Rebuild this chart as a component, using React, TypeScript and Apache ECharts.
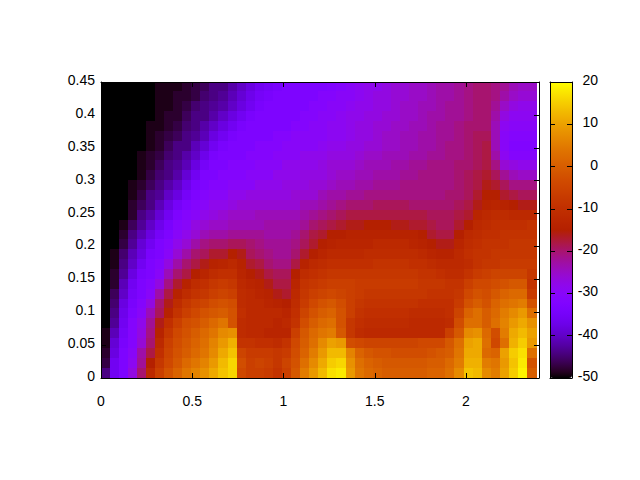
import React, { useEffect, useRef } from "react";
import * as echarts from "echarts";

const xTicks = [0, 0.5, 1, 1.5, 2];
const yTicks = [0, 0.05, 0.1, 0.15, 0.2, 0.25, 0.3, 0.35, 0.4, 0.45];
const xStep = 0.04973;
const yStep = 0.015;

// Values, top row first, left column first.
const rows: number[][] = [
[-95,-85,-76,-68,-60,-52,-49,-49,-49,-48,-47,-46,-44,-44,-42,-40,-38,-36,-35,-34,-33,-33,-33,-33,-33,-32,-31,-30,-29,-28,-28,-27,-26,-26,-25,-25,-24,-23,-23,-22,-21,-20,-20,-21,-22,-24,-25,-25],
[-94,-84,-74,-67,-58,-51,-49,-49,-48,-48,-47,-45,-44,-43,-41,-39,-37,-35,-34,-33,-33,-33,-33,-33,-31,-31,-30,-30,-29,-28,-27,-27,-26,-26,-25,-25,-24,-23,-23,-22,-21,-20,-20,-21,-23,-25,-26,-26],
[-93,-82,-72,-65,-56,-51,-49,-49,-48,-47,-45,-44,-43,-42,-40,-38,-36,-34,-33,-33,-33,-33,-33,-31,-31,-30,-30,-29,-28,-28,-27,-27,-26,-25,-25,-24,-24,-23,-22,-22,-21,-20,-20,-22,-25,-27,-28,-28],
[-92,-80,-70,-62,-54,-50,-49,-48,-48,-46,-44,-44,-42,-40,-38,-36,-34,-33,-33,-33,-33,-33,-31,-31,-30,-30,-29,-28,-28,-27,-27,-26,-26,-25,-25,-24,-23,-23,-22,-22,-21,-20,-20,-23,-27,-29,-29,-29],
[-90,-78,-68,-60,-52,-49,-49,-48,-47,-45,-44,-42,-40,-38,-36,-34,-33,-33,-33,-33,-33,-31,-31,-30,-30,-29,-29,-28,-27,-27,-26,-26,-25,-25,-24,-24,-23,-22,-22,-21,-20,-20,-20,-24,-29,-30,-30,-30],
[-88,-75,-65,-57,-50,-49,-48,-47,-46,-44,-43,-41,-38,-36,-34,-33,-33,-33,-33,-31,-31,-30,-30,-30,-30,-29,-29,-28,-27,-27,-26,-25,-25,-24,-24,-23,-23,-22,-22,-21,-20,-19,-19,-24,-30,-31,-31,-31],
[-85,-72,-62,-55,-50,-49,-48,-46,-44,-44,-41,-39,-36,-34,-33,-33,-33,-31,-31,-31,-30,-30,-30,-30,-29,-28,-28,-27,-27,-26,-26,-25,-25,-24,-24,-23,-23,-22,-21,-21,-20,-19,-18,-24,-30,-32,-32,-32],
[-82,-70,-60,-53,-49,-48,-47,-45,-44,-42,-40,-37,-34,-33,-33,-33,-31,-31,-31,-30,-30,-30,-28,-28,-28,-27,-27,-27,-26,-25,-25,-24,-24,-24,-23,-23,-22,-22,-21,-21,-20,-19,-18,-23,-29,-31,-31,-31],
[-80,-68,-58,-52,-49,-48,-46,-44,-43,-41,-38,-35,-33,-33,-31,-31,-31,-30,-30,-30,-28,-28,-28,-28,-27,-26,-26,-26,-25,-24,-24,-24,-23,-23,-22,-22,-21,-21,-21,-20,-20,-19,-18,-21,-26,-27,-28,-28],
[-78,-65,-56,-51,-49,-47,-45,-44,-42,-39,-36,-33,-33,-31,-31,-31,-30,-30,-30,-28,-28,-28,-27,-27,-27,-26,-25,-25,-24,-24,-23,-23,-23,-22,-22,-21,-21,-21,-21,-20,-19,-18,-17,-19,-22,-24,-25,-25],
[-75,-62,-55,-49,-48,-46,-44,-42,-40,-37,-34,-33,-31,-31,-30,-30,-30,-28,-28,-28,-27,-27,-27,-26,-26,-25,-24,-24,-23,-23,-22,-22,-22,-21,-21,-21,-21,-21,-21,-20,-19,-18,-16,-17,-19,-21,-21,-21],
[-72,-60,-53,-49,-47,-44,-43,-40,-38,-35,-33,-31,-30,-30,-28,-28,-27,-27,-27,-27,-27,-26,-26,-26,-24,-23,-23,-22,-22,-21,-21,-21,-21,-21,-21,-21,-21,-21,-20,-20,-19,-17,-15,-15,-17,-18,-19,-19],
[-70,-57,-51,-48,-46,-44,-41,-38,-35,-33,-31,-30,-28,-28,-27,-26,-26,-26,-26,-26,-26,-26,-24,-24,-23,-22,-21,-20,-20,-20,-19,-19,-19,-19,-20,-20,-20,-20,-20,-19,-18,-16,-14,-13,-14,-15,-16,-16],
[-68,-55,-50,-48,-44,-42,-39,-36,-33,-31,-30,-28,-27,-26,-25,-25,-25,-24,-24,-24,-24,-24,-23,-22,-21,-20,-19,-18,-18,-18,-18,-18,-18,-18,-18,-18,-19,-19,-19,-18,-17,-13,-12,-11,-11,-12,-12,-12],
[-65,-53,-49,-46,-43,-40,-37,-34,-31,-30,-27,-26,-25,-25,-24,-24,-24,-24,-23,-23,-23,-23,-22,-20,-19,-18,-17,-16,-16,-15,-15,-15,-16,-16,-17,-17,-18,-19,-19,-17,-15,-12,-11,-10,-10,-10,-10,-9],
[-62,-52,-48,-44,-41,-38,-35,-33,-30,-28,-26,-24,-23,-23,-22,-22,-22,-22,-23,-23,-23,-22,-20,-18,-17,-15,-15,-14,-14,-14,-14,-14,-14,-14,-14,-15,-17,-18,-18,-15,-12,-11,-10,-10,-9,-9,-9,-9],
[-60,-50,-47,-43,-39,-36,-33,-31,-28,-26,-23,-21,-20,-20,-19,-19,-20,-21,-22,-22,-22,-21,-19,-17,-15,-14,-13,-13,-13,-13,-12,-12,-12,-12,-13,-14,-15,-16,-16,-13,-11,-10,-9,-9,-9,-8,-8,-8],
[-58,-49,-45,-41,-38,-34,-33,-30,-26,-23,-20,-19,-17,-17,-15,-16,-19,-20,-21,-22,-22,-20,-17,-15,-13,-12,-12,-12,-12,-11,-11,-11,-11,-11,-11,-12,-13,-14,-14,-12,-10,-9,-9,-8,-8,-8,-8,-8],
[-56,-49,-44,-40,-36,-33,-31,-27,-23,-20,-18,-16,-14,-13,-12,-14,-17,-18,-20,-21,-21,-18,-14,-12,-11,-10,-10,-10,-10,-10,-9,-9,-9,-9,-10,-10,-11,-12,-12,-12,-11,-9,-8,-8,-7,-7,-7,-7],
[-55,-48,-43,-38,-34,-33,-30,-24,-20,-18,-15,-13,-11,-10,-10,-13,-15,-16,-18,-19,-19,-15,-11,-10,-9,-8,-8,-8,-8,-8,-8,-8,-8,-8,-8,-9,-9,-10,-11,-11,-9,-7,-6,-5,-5,-5,-5,-8],
[-54,-48,-41,-36,-33,-31,-27,-21,-17,-14,-11,-10,-8,-7,-8,-12,-13,-14,-16,-18,-18,-13,-9,-8,-7,-6,-6,-6,-7,-7,-7,-7,-7,-7,-7,-8,-8,-8,-9,-9,-6,-4,-4,-3,-2,-1,-1,-9],
[-53,-46,-40,-35,-33,-30,-23,-18,-14,-11,-9,-8,-6,-5,-6,-11,-12,-13,-14,-16,-17,-12,-8,-6,-5,-4,-5,-6,-7,-8,-8,-8,-8,-8,-8,-8,-9,-9,-9,-8,-4,-2,-3,-1,1,2,2,-7],
[-52,-45,-38,-34,-31,-27,-20,-16,-11,-8,-6,-5,-3,-2,-3,-11,-12,-12,-13,-14,-15,-11,-7,-4,-2,-1,-3,-6,-8,-9,-9,-9,-9,-9,-9,-10,-10,-10,-10,-7,-2,0,-2,1,3,4,5,-2],
[-51,-44,-37,-33,-30,-24,-19,-14,-9,-6,-4,-2,-1,0,-2,-10,-12,-12,-12,-12,-13,-10,-5,-2,0,1,-2,-6,-9,-10,-10,-10,-10,-10,-11,-11,-11,-11,-10,-5,1,3,0,2,5,7,9,3],
[-50,-43,-36,-31,-28,-22,-16,-10,-6,-3,-2,0,2,4,-2,-11,-12,-12,-12,-13,-12,-9,-3,0,2,3,-2,-8,-10,-11,-11,-11,-11,-11,-12,-12,-12,-12,-11,-3,3,3,0,3,6,9,11,8],
[-49,-41,-35,-31,-27,-21,-14,-8,-4,-2,0,2,4,7,8,-11,-12,-12,-13,-13,-13,-6,-1,2,4,5,-1,-8,-11,-12,-12,-12,-12,-12,-12,-12,-12,-12,-6,-1,7,8,2,-3,5,11,13,10],
[-49,-39,-34,-31,-26,-20,-12,-6,-3,-1,1,3,6,9,12,-9,-9,-10,-10,-11,-9,-4,0,3,7,10,9,-3,-4,-5,-5,-5,-5,-5,-5,-4,-4,-4,-1,3,10,11,3,-4,3,12,15,9],
[-48,-38,-33,-30,-23,-18,-10,-5,-2,0,2,4,7,11,14,-5,-7,-7,-7,-8,-7,-3,1,5,9,13,13,6,1,-1,-2,-2,-3,-3,-3,-3,-2,-1,0,4,11,11,2,1,10,15,17,3],
[-47,-36,-33,-29,-22,-15,-8,-4,-1,2,4,6,9,13,16,-3,-6,-5,-6,-8,-5,-2,3,7,11,15,16,8,3,1,0,-1,-1,-1,-1,-1,0,0,2,5,12,12,5,4,9,14,18,-2],
[-44,-36,-33,-27,-20,-12,-6,-2,1,4,6,8,11,14,16,-4,-6,-6,-7,-9,-6,-1,5,9,13,17,18,9,4,2,1,0,0,0,0,0,1,1,3,7,14,13,7,5,10,15,19,0],
];

const palette: string[] = [];
for (let i = 0; i <= 64; i++) {
  const t = i / 64;
  const r = Math.sqrt(t);
  const g = t * t * t;
  const b = Math.max(0, Math.sin(2 * Math.PI * t));
  palette.push(`rgb(${Math.round(r * 255)},${Math.round(g * 255)},${Math.round(b * 255)})`);
}

const FONT = "'Liberation Sans', Arial, sans-serif";

export default function App() {
  const ref = useRef<HTMLDivElement>(null);
  useEffect(() => {
    const chart = echarts.init(ref.current!, null, { renderer: "svg" });
    const data: number[][] = [];
    rows.forEach((row, r) => {
      const j = rows.length - 1 - r;
      row.forEach((v, i) => {
        data.push([(i + 0.5) * xStep, (j + 0.5) * yStep, Math.max(-50, Math.min(20, v))]);
      });
    });
    const black = { lineStyle: { color: "#000", width: 1 } };
    const label = { color: "#000", fontFamily: FONT, fontSize: 14 };
    const raised = { verticalAlign: "bottom", lineHeight: 4 };
    const mainX = (position: string, showLabels: boolean) => ({
      type: "value", gridIndex: 0, position, min: 0, max: 2.4, z: 10,
      splitLine: { show: false },
      axisLine: { show: true, onZero: false, ...black },
      axisTick: { show: true, inside: true, length: 5, customValues: xTicks, ...black },
      axisLabel: { show: showLabels, customValues: xTicks, margin: 16, ...label },
    });
    const mainY = (position: string, showLabels: boolean) => ({
      type: "value", gridIndex: 0, position, min: 0, max: 0.45, z: 10,
      splitLine: { show: false },
      axisLine: { show: true, onZero: false, ...black },
      axisTick: { show: true, inside: true, length: 5, customValues: yTicks, ...black },
      axisLabel: { show: showLabels, customValues: yTicks, margin: 6, ...raised, formatter: (v: number) => String(+v.toFixed(2)), ...label },
    });
    const cbX = (position: string) => ({
      type: "value", gridIndex: 1, position, min: 0, max: 1, z: 10,
      splitLine: { show: false },
      axisLine: { show: true, onZero: false, ...black },
      axisTick: { show: false }, axisLabel: { show: false },
    });
    const cbY = (position: string, showLabels: boolean) => ({
      type: "value", gridIndex: 1, position, min: -50, max: 20, interval: 10, z: 10,
      splitLine: { show: false },
      axisLine: { show: true, onZero: false, ...black },
      axisTick: { show: true, inside: true, length: 5, ...black },
      axisLabel: { show: showLabels, align: "right", margin: 26, ...raised, ...label },
    });
    chart.setOption({
      animation: false,
      backgroundColor: "#fff",
      grid: [
        { left: 101, top: 82, width: 438, height: 296, containLabel: false },
        { left: 550, top: 82, width: 22, height: 296, containLabel: false },
      ],
      xAxis: [mainX("bottom", true), mainX("top", false), cbX("bottom"), cbX("top")],
      yAxis: [mainY("left", true), mainY("right", false), cbY("right", true), cbY("left", false)],
      visualMap: {
        type: "continuous", min: -50, max: 20, seriesIndex: 0, dimension: 2,
        left: 550, top: 82, itemWidth: 22, itemHeight: 296, padding: 0,
        calculable: false, realtime: false, hoverLink: false, showLabel: false,
        text: ["", ""], textStyle: { fontSize: 0 },
        inRange: { color: palette },
      },
      series: [
        {
          type: "custom", coordinateSystem: "cartesian2d", xAxisIndex: 0, yAxisIndex: 0,
          z: 1, silent: true, clip: true,
          encode: { x: 0, y: 1 },
          data,
          renderItem: (_p: any, api: any) => {
            const x = api.value(0), y = api.value(1);
            const a = api.coord([x - xStep / 2, y + yStep / 2]);
            const b = api.coord([x + xStep / 2, y - yStep / 2]);
            const x0 = Math.floor(a[0]), y0 = Math.floor(a[1]);
            return {
              type: "rect",
              shape: { x: x0, y: y0, width: Math.ceil(b[0]) - x0, height: Math.ceil(b[1]) - y0 },
              style: { fill: api.visual("color") },
            };
          },
        },
      ],
    });
    return () => chart.dispose();
  }, []);
  return <div ref={ref} style={{ position: "fixed", left: 0, top: 0, width: 640, height: 480 }} />;
}
